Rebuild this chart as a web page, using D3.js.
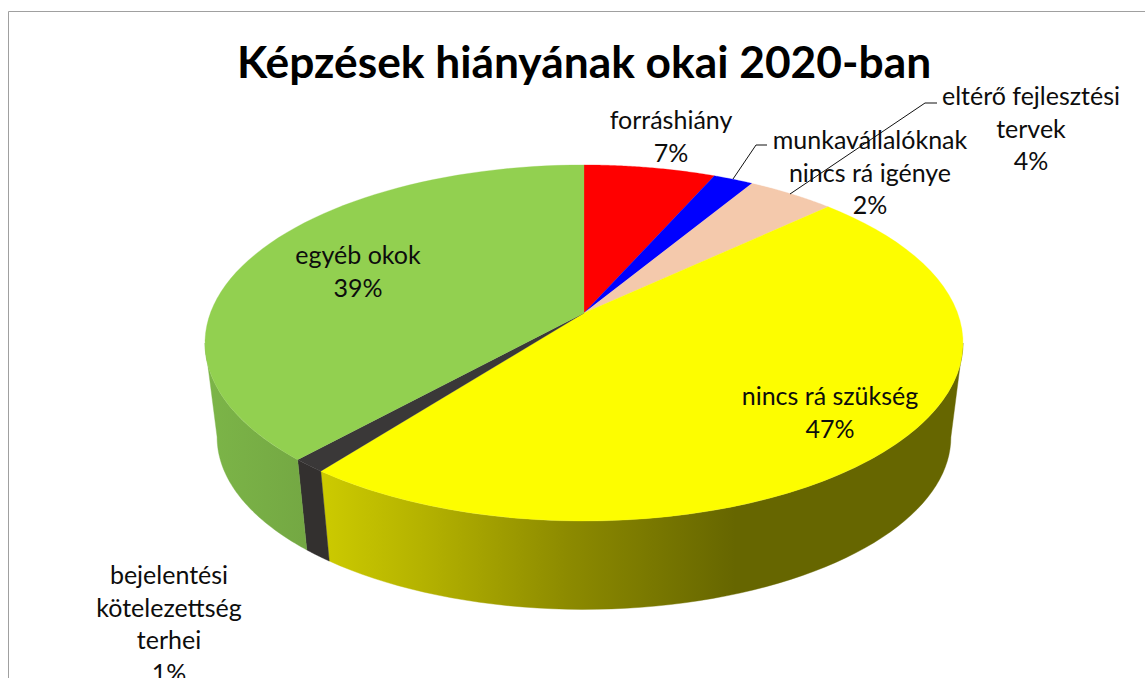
<!DOCTYPE html>
<html><head><meta charset="utf-8">
<script src="https://cdn.jsdelivr.net/npm/d3@7"></script>
<style>html,body{margin:0;padding:0;background:#fff;overflow:hidden}svg{display:block}</style>
</head><body><svg id="c" width="1145" height="678"></svg>
<script>
const titleText = "Képzések hiányának okai 2020-ban";
const categories = ["forráshiány","munkavállalóknak nincs rá igénye","eltérő fejlesztési tervek","nincs rá szükség","bejelentési kötelezettség terhei","egyéb okok"];
const values = [6.6, 2.0, 4.4, 47.45, 1.25, 38.3];
const percentLabels = ["7%","2%","4%","47%","1%","39%"];
const topColors = ["#ff0000","#0000ff","#f4c9ac","#fdfd00","#3a3838","#92d050"];
const labelLines = [["forráshiány"],["munkavállalóknak","nincs rá igénye"],["eltérő fejlesztési","tervek"],["nincs rá szükség"],["bejelentési","kötelezettség","terhei"],["egyéb okok"]];

const W=1145,H=678;
const svg=d3.select("#c");
const font="Lato, 'Open Sans', sans-serif";

// chart frame
svg.append("path").attr("d","M8.5,678V11.5H1145").attr("fill","none").attr("stroke","#a0a0a0").attr("stroke-width",1);

// perspective projection of a unit disc
const cx=584,k=0.1685,A=373.6,B=173,topY=313,s=0.968,botY=408;
const proj=(a,y0,sc)=>{const u=Math.sin(a),v=-Math.cos(a),w=1-k*v;return [cx+sc*A*u/w,y0+sc*B*v/w];};
const pie=d3.pie().sort(null).startAngle(0).endAngle(2*Math.PI)(values);
const samples=(a0,a1)=>d3.range(0,61).map(i=>a0+(a1-a0)*i/60);
const line=d3.line();

const defs=svg.append("defs");
const grad=(id,x1,x2,stops)=>{const g=defs.append("linearGradient").attr("id",id).attr("gradientUnits","userSpaceOnUse").attr("x1",x1).attr("x2",x2).attr("y1",0).attr("y2",0);
 stops.forEach(([o,c])=>g.append("stop").attr("offset",o).attr("stop-color",c));};
grad("ySide",320,735,[[0,"#cdcb00"],[0.25,"#b4b200"],[0.6,"#8c8a00"],[1,"#666600"]]);
grad("gSide",205,305,[[0,"#7cb548"],[1,"#74a843"]]);
const sideFill={3:"url(#ySide)",4:"#33302f",5:"url(#gSide)"};

// visible wall: front part of the rim, bounded by the silhouette angles (v>=k)
const silA=Math.acos(-k);            // right silhouette, clockwise from the top
const silB=2*Math.PI-silA;           // left silhouette
const sides=svg.append("g");
pie.forEach((d,i)=>{
  const a0=Math.max(d.startAngle,silA),a1=Math.min(d.endAngle,silB);
  if(a1<=a0) return;
  const t=samples(a0,a1);
  const pts=[...t.map(a=>proj(a,topY,1)),...t.slice().reverse().map(a=>proj(a,botY,s))];
  sides.append("path").attr("d",line(pts)+"Z").attr("fill",sideFill[i]||topColors[i]).attr("stroke",sideFill[i]||topColors[i]).attr("stroke-width",0.4);
});

// top face
const tops=svg.append("g");
pie.forEach((d,i)=>{
  const pts=[[cx,topY],...samples(d.startAngle,d.endAngle).map(a=>proj(a,topY,1))];
  tops.append("path").attr("d",line(pts)+"Z").attr("fill",topColors[i]).attr("stroke",topColors[i]).attr("stroke-width",0.3);
});

// leader lines
const leaders=[[[733,179],[756,145],[767,145]],[[790,194],[925,103],[937,103]]];
svg.selectAll("path.leader").data(leaders).join("path").attr("class","leader").attr("d",d=>line(d)).attr("fill","none").attr("stroke","#111").attr("stroke-width",1);

// title
svg.append("text").attr("x",584).attr("y",78).attr("text-anchor","middle").attr("font-family",font).attr("font-weight",700).attr("font-size",44.3).attr("fill","#000").text(titleText);

// data labels: centre x, first baseline, line step
const labelX=[671,870,1031,830,169,358];
const labelY=[129,149,105,405,584,264];
const step=32.5;
labelLines.forEach((lines,i)=>{
  const t=svg.append("text").attr("font-family",font).attr("font-size",25).attr("fill","#0d0d0d").attr("text-anchor","middle");
  [...lines,percentLabels[i]].forEach((l,j)=>t.append("tspan").attr("x",labelX[i]).attr("y",labelY[i]+j*step).text(l));
});
</script></body></html>
